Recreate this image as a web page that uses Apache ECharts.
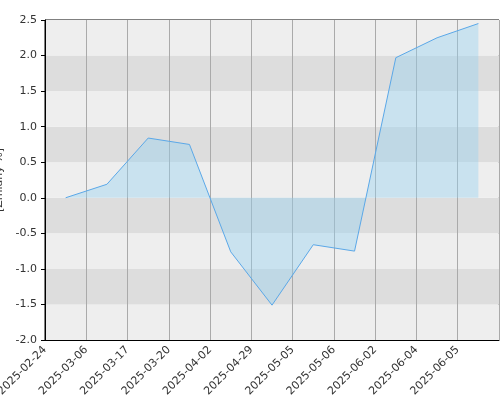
<!DOCTYPE html>
<html>
<head>
<meta charset="UTF-8">
<script src="https://cdn.jsdelivr.net/npm/echarts@6/dist/echarts.min.js"></script>
<style>* {margin:0;padding:0;} html,body,#main{width:500px;height:400px;background:#fff;}</style>
</head>
<body>
<div id="main"></div>
<script>
const dates = ['2025-02-24','2025-03-06','2025-03-17','2025-03-20','2025-04-02','2025-04-29','2025-05-05','2025-05-06','2025-06-02','2025-06-04','2025-06-05'];
const values = [0.0, 0.19, 0.84, 0.75, -0.76, -1.51, -0.66, -0.75, 1.97, 2.25, 2.45];
const tickLabels = dates.concat(['']);

const chart = echarts.init(document.getElementById('main'));
chart.setOption({
  animation: false,
  grid: {left: 45, right: 1, top: 20, bottom: 60, containLabel: false, outerBoundsMode: 'none',
    show: true, borderColor: '#000', borderWidth: 1, backgroundColor: 'transparent'},
  xAxis: [{
    type: 'category', data: dates, boundaryGap: true, show: false
  }, {
    type: 'category', data: tickLabels, boundaryGap: false, position: 'bottom',
    axisLine: {lineStyle: {color: '#000'}},
    axisTick: {show: false},
    splitLine: {show: true, lineStyle: {color: '#aaa'}},
    axisLabel: {rotate: 45, fontSize: 11, color: '#333', interval: 0, fontFamily: 'DejaVu Sans'}
  }],
  yAxis: {
    type: 'value', min: -2, max: 2.5, interval: 0.5,
    name: '[Zmiany %]', nameLocation: 'middle', nameGap: 32,
    nameTextStyle: {fontSize: 11, color: '#333', fontFamily: 'DejaVu Sans'},
    axisLine: {show: true, lineStyle: {color: '#000'}},
    axisTick: {show: true, length: 4, lineStyle: {color: '#000'}},
    axisLabel: {formatter: v => v.toFixed(1), fontSize: 11, color: '#333', fontFamily: 'DejaVu Sans'},
    splitLine: {show: false},
    splitArea: {show: true, areaStyle: {color: ['#eeeeee', '#dddddd']}}
  },
  series: [{
    type: 'line', xAxisIndex: 0, data: values, symbol: 'none',
    lineStyle: {color: '#5ba8e8', width: 1},
    areaStyle: {color: 'rgba(150,210,240,0.6)'}
  }]
});
</script>
</body>
</html>
